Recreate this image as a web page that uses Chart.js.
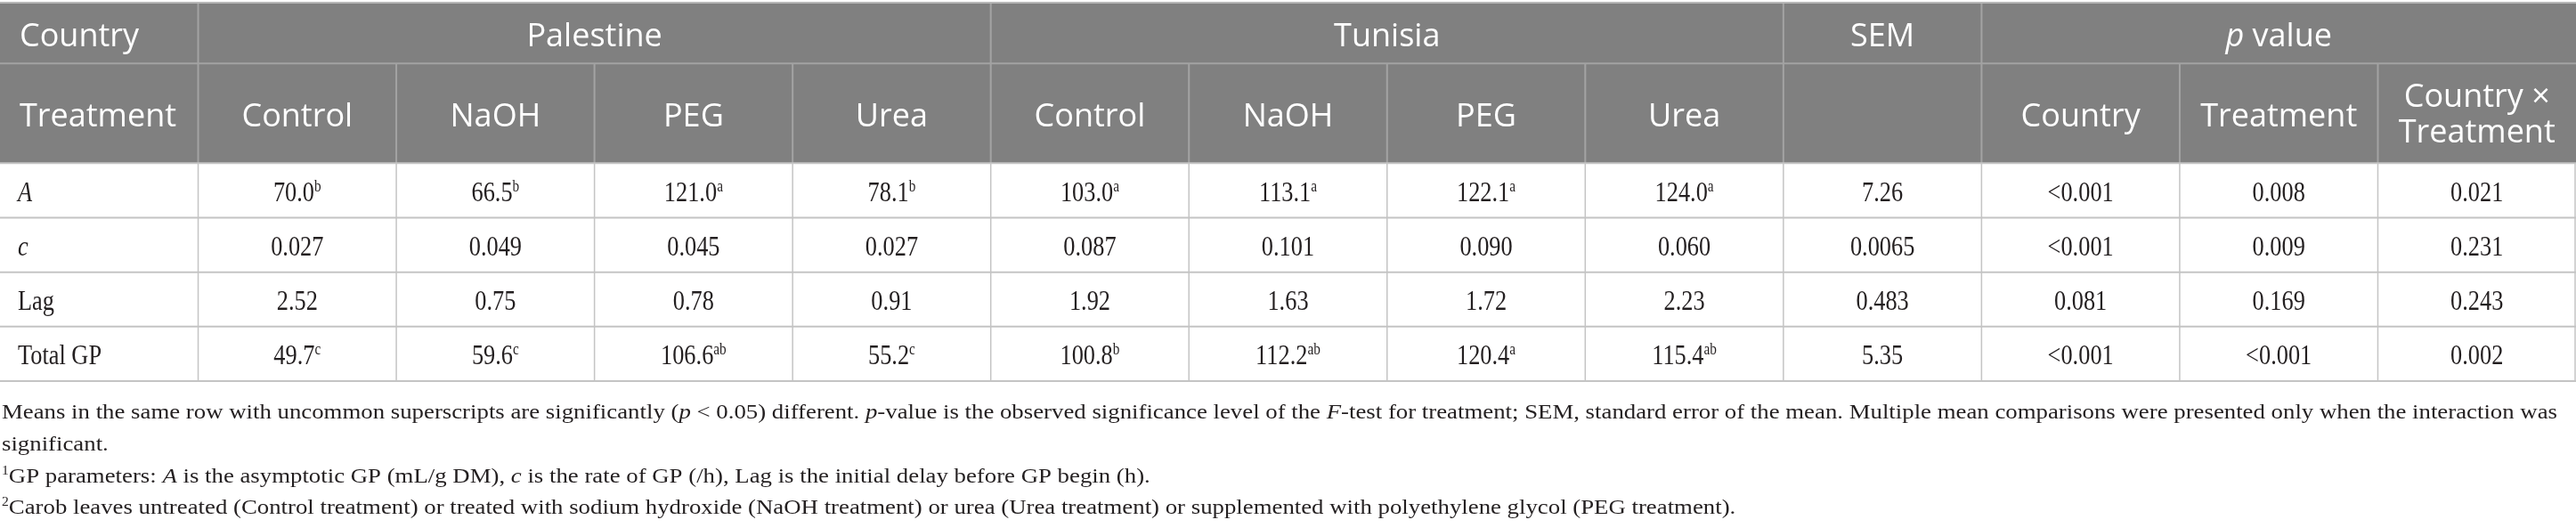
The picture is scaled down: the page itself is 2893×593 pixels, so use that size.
<!DOCTYPE html>
<html>
<head>
<meta charset="utf-8">
<script src="https://cdn.jsdelivr.net/npm/chart.js@4/dist/chart.umd.min.js"></script>
<style>
  html, body { margin: 0; padding: 0; background: #fff; }
  #wrap { width: 2893px; height: 593px; position: relative; }
</style>
</head>
<body>
<div id="wrap"><canvas id="tbl"></canvas></div>
<script>
// table content
const countries = ['Palestine', 'Tunisia'];
const treatments = ['Control', 'NaOH', 'PEG', 'Urea'];
const params = ['A', 'c', 'Lag', 'Total GP'];
const italicParams = ['A', 'c'];

const aValues = ['70.0', '66.5', '121.0', '78.1', '103.0', '113.1', '122.1', '124.0'];
const aLetters = ['b', 'b', 'a', 'b', 'a', 'a', 'a', 'a'];
const cValues = ['0.027', '0.049', '0.045', '0.027', '0.087', '0.101', '0.090', '0.060'];
const lagValues = ['2.52', '0.75', '0.78', '0.91', '1.92', '1.63', '1.72', '2.23'];
const totalValues = ['49.7', '59.6', '106.6', '55.2', '100.8', '112.2', '120.4', '115.4'];
const totalLetters = ['c', 'c', 'ab', 'c', 'b', 'ab', 'a', 'ab'];

const semValues = ['7.26', '0.0065', '0.483', '5.35'];
const pCountry = ['<0.001', '<0.001', '0.081', '<0.001'];
const pTreatment = ['0.008', '0.009', '0.169', '<0.001'];
const pInteraction = ['0.021', '0.231', '0.243', '0.002'];

const footnotes = [
  [['Means in the same row with uncommon superscripts are significantly ('], ['p', 'i'], [' < 0.05) different. '], ['p', 'i'],
   ['-value is the observed significance level of the '], ['F', 'i'], ['-test for treatment; SEM, standard error of the mean. Multiple mean comparisons were presented only when the interaction was']],
  [['significant.']],
  [['1', 's'], ['GP parameters: '], ['A', 'i'], [' is the asymptotic GP (mL/g DM), '], ['c', 'i'], [' is the rate of GP (/h), Lag is the initial delay before GP begin (h).']],
  [['2', 's'], ['Carob leaves untreated (Control treatment) or treated with sodium hydroxide (NaOH treatment) or urea (Urea treatment) or supplemented with polyethylene glycol (PEG treatment).']]
];

const bodyRows = [
  { vals: aValues, sup: aLetters },
  { vals: cValues },
  { vals: lagValues },
  { vals: totalValues, sup: totalLetters }
];

// row edges in body-row units (two header rows, four body rows)
const rowBounds = [0, 1.1, 2.93, 3.93, 4.93, 5.93, 6.93];

const SERIF = '"Liberation Serif", "DejaVu Serif", serif';
const SANS = '"Open Sans", "Noto Sans", sans-serif';

function drawRich(ctx, segs, x, y, align, sx) {
  let total = 0;
  segs.forEach(s => { ctx.font = s.font; s.w = ctx.measureText(s.text).width * sx; total += s.w; });
  let cx = align === 'center' ? x - total / 2 : x;
  segs.forEach(s => {
    ctx.save();
    ctx.translate(cx, y + (s.dy || 0));
    ctx.scale(sx, 1);
    ctx.font = s.font;
    ctx.textAlign = 'left';
    ctx.textBaseline = 'alphabetic';
    ctx.fillText(s.text, 0, 0);
    ctx.restore();
    cx += s.w;
  });
  return total;
}

const tablePlugin = {
  id: 'tablePlugin',
  afterDraw(chart) {
    const { ctx, scales: { x, y } } = chart;
    const cx = i => x.getPixelForValue(i);
    const ry = i => y.getPixelForValue(rowBounds[i]);
    const left = cx(0), right = cx(13);

    ctx.save();
    // header background
    ctx.fillStyle = '#808080';
    ctx.fillRect(left, ry(0), right - left, ry(2) - ry(0));

    // header lines
    ctx.strokeStyle = '#a3a3a3';
    ctx.lineWidth = 2;
    const hline = (yy, col) => { ctx.strokeStyle = col; ctx.beginPath(); ctx.moveTo(left, yy); ctx.lineTo(right, yy); ctx.stroke(); };
    const vline = (xx, y0, y1, col, lw) => { ctx.strokeStyle = col; ctx.lineWidth = lw; ctx.beginPath(); ctx.moveTo(xx, y0); ctx.lineTo(xx, y1); ctx.stroke(); };
    hline(ry(0) - 1, '#b8b8b8');
    hline(ry(1), '#a3a3a3');
    [1, 5, 9, 10].forEach(c => vline(cx(c), ry(0), ry(1), '#a3a3a3', 2));
    for (let c = 1; c < 13; c++) vline(cx(c), ry(1), ry(2), '#a3a3a3', 2);

    // body lines
    ctx.lineWidth = 2;
    for (let r = 2; r <= 6; r++) hline(ry(r), '#c4c4c4');
    for (let c = 1; c <= 13; c++) vline(Math.min(cx(c), right - 1), ry(2), ry(6), '#c4c4c4', 1.5);

    // header text
    ctx.fillStyle = '#ffffff';
    const hFont = '36px ' + SANS, hFontI = 'italic 36px ' + SANS;
    const mid1 = (ry(0) + ry(1)) / 2, mid2 = (ry(1) + ry(2)) / 2;
    drawRich(ctx, [{ text: 'Country', font: hFont }], cx(0) + 22, mid1 + 14, 'left', 1);
    countries.forEach((name, k) => {
      drawRich(ctx, [{ text: name, font: hFont }], (cx(1 + 4 * k) + cx(5 + 4 * k)) / 2, mid1 + 14, 'center', 1);
    });
    drawRich(ctx, [{ text: 'SEM', font: hFont }], (cx(9) + cx(10)) / 2, mid1 + 14, 'center', 1);
    drawRich(ctx, [{ text: 'p', font: hFontI }, { text: ' value', font: hFont }], (cx(10) + cx(13)) / 2, mid1 + 14, 'center', 1);

    drawRich(ctx, [{ text: 'Treatment', font: hFont }], cx(0) + 22, mid2 + 15, 'left', 1);
    countries.forEach((_, k) => {
      treatments.forEach((t, j) => {
        const c = 1 + 4 * k + j;
        drawRich(ctx, [{ text: t, font: hFont }], (cx(c) + cx(c + 1)) / 2, mid2 + 15, 'center', 1);
      });
    });
    drawRich(ctx, [{ text: 'Country', font: hFont }], (cx(10) + cx(11)) / 2, mid2 + 15, 'center', 1);
    drawRich(ctx, [{ text: 'Treatment', font: hFont }], (cx(11) + cx(12)) / 2, mid2 + 15, 'center', 1);
    drawRich(ctx, [{ text: 'Country \u00d7', font: hFont }], (cx(12) + cx(13)) / 2, mid2 - 7, 'center', 1);
    drawRich(ctx, [{ text: 'Treatment', font: hFont }], (cx(12) + cx(13)) / 2, mid2 + 33, 'center', 1);

    // body text
    ctx.fillStyle = '#231f20';
    const bFont = '31px ' + SERIF, bFontI = 'italic 31px ' + SERIF, supFont = '18px ' + SERIF;
    const SX = 0.85;
    bodyRows.forEach((row, r) => {
      const base = (ry(2 + r) + ry(3 + r)) / 2 + 12;
      const p = params[r];
      drawRich(ctx, [{ text: p, font: italicParams.includes(p) ? bFontI : bFont }], cx(0) + 20, base, 'left', SX);
      row.vals.forEach((v, j) => {
        const segs = [{ text: v, font: bFont }];
        if (row.sup) segs.push({ text: row.sup[j], font: supFont, dy: -11 });
        drawRich(ctx, segs, (cx(1 + j) + cx(2 + j)) / 2, base, 'center', SX);
      });
      [semValues, pCountry, pTreatment, pInteraction].forEach((arr, k) => {
        drawRich(ctx, [{ text: arr[r], font: bFont }], (cx(9 + k) + cx(10 + k)) / 2, base, 'center', SX);
      });
    });

    // footnotes
    const fFont = '24px ' + SERIF, fFontI = 'italic 24px ' + SERIF, fSup = '14px ' + SERIF;
    const toSegs = line => line.map(([t, k]) => ({ text: t, font: k === 'i' ? fFontI : k === 's' ? fSup : fFont, dy: k === 's' ? -9 : 0 }));
    let w1 = 0;
    toSegs(footnotes[0]).forEach(s => { ctx.font = s.font; w1 += ctx.measureText(s.text).width; });
    const fSX = 2870 / w1;
    const bases = [470, 506, 542, 577];
    footnotes.forEach((line, i) => drawRich(ctx, toSegs(line), 2, bases[i], 'left', fSX));
    ctx.restore();
  }
};

// invisible anchor points at every body cell centre
const anchors = [];
bodyRows.forEach((row, r) => {
  for (let c = 0; c < 13; c++) anchors.push({ x: c + 0.5, y: (rowBounds[2 + r] + rowBounds[3 + r]) / 2 });
});

new Chart(document.getElementById('tbl'), {
  type: 'scatter',
  data: { datasets: [{ data: anchors, pointRadius: 0, pointHoverRadius: 0 }] },
  options: {
    responsive: true,
    maintainAspectRatio: false,
    devicePixelRatio: 1,
    animation: false,
    events: [],
    layout: { padding: { top: 4, bottom: 165, left: 0, right: 0 } },
    plugins: { legend: { display: false }, tooltip: { enabled: false } },
    scales: {
      x: { type: 'linear', min: 0, max: 13, display: false },
      y: { type: 'linear', min: 0, max: 6.93, reverse: true, display: false }
    }
  },
  plugins: [tablePlugin]
});
</script>
</body>
</html>
